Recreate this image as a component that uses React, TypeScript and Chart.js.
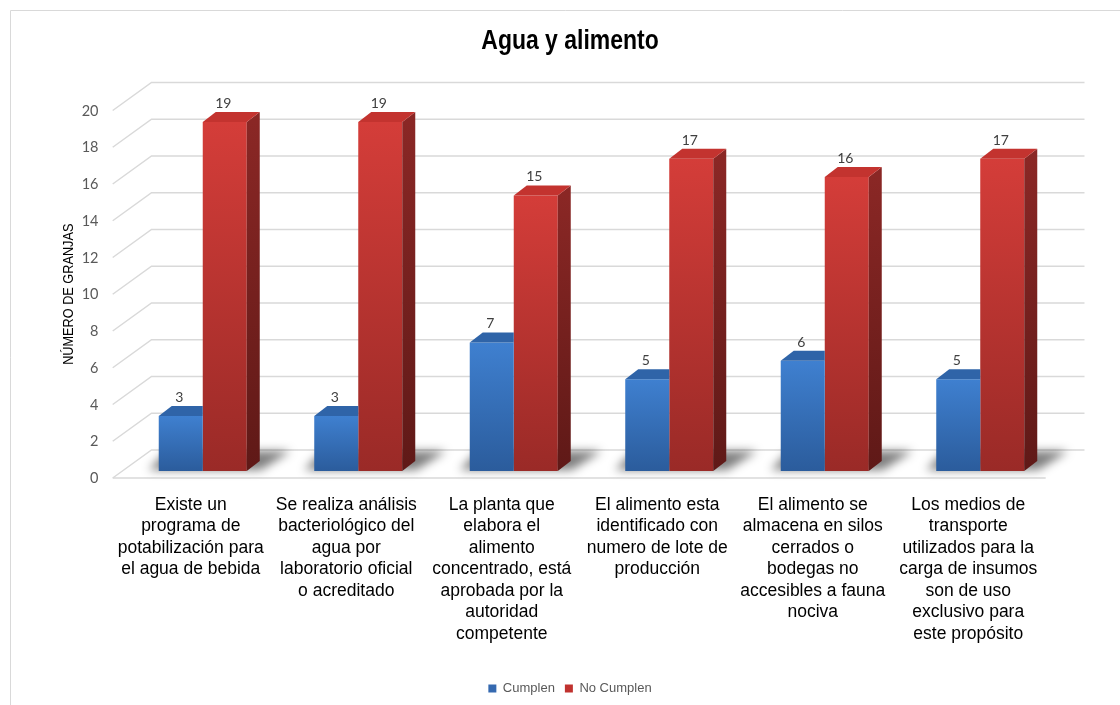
import React, { useEffect, useRef } from "react";
import { Chart, registerables } from "chart.js";

Chart.register(...registerables);

// ---------- data ----------
const categories: string[][] = [
  ["Existe un", "programa de", "potabilización para", "el agua de bebida"],
  ["Se realiza análisis", "bacteriológico del", "agua por", "laboratorio oficial", "o acreditado"],
  ["La planta que", "elabora el", "alimento", "concentrado, está", "aprobada por la", "autoridad", "competente"],
  ["El alimento esta", "identificado con", "numero de lote de", "producción"],
  ["El alimento se", "almacena en silos", "cerrados o", "bodegas no", "accesibles a fauna", "nociva"],
  ["Los medios de", "transporte", "utilizados para la", "carga de insumos", "son de uso", "exclusivo para", "este propósito"],
];
const cumplen = [3, 3, 7, 5, 6, 5];
const noCumplen = [19, 19, 15, 17, 16, 17];
const seriesNames = ["Cumplen", "No Cumplen"];
const yMin = 0;
const yMax = 20;
const yStep = 2;
const chartTitle = "Agua y alimento";
const yTitle = "NÚMERO DE GRANJAS";

// ---------- style ----------
const SANS = "'Liberation Sans', Arial, sans-serif";
const NUM = "Lato, 'Liberation Sans', sans-serif";
const NARROW_SCALE = 0.82;

const BLUE = { top: "#3f80d0", bottom: "#2b5c9c", cap: "#2f64a8", legend: "#3569b0" };
const RED = { top: "#d43d39", bottom: "#9a2a27", cap: "#c3332f", sideTop: "#8a2725", sideBottom: "#5f1917", legend: "#c0322f" };
const DEPTH = { dx: 13, dy: -10 };
const FRONT = { dx: -12.3, dy: 7 };
const BACK = { dx: 26.5, dy: -21 };
const GRID = "#d9d9d9";

function frontGradient(colors: { top: string; bottom: string }) {
  return (ctx: any) => {
    const chart = ctx.chart;
    if (ctx.type !== "data" || !chart.chartArea) return colors.bottom;
    const y = chart.scales.y;
    const t = y.getPixelForValue(ctx.raw);
    const b = y.getPixelForValue(0);
    const g = chart.ctx.createLinearGradient(0, t, 0, b);
    g.addColorStop(0, colors.top);
    g.addColorStop(1, colors.bottom);
    return g;
  };
}

function narrowText(c: CanvasRenderingContext2D, text: string, x: number, y: number, rot = 0) {
  c.save();
  c.translate(x, y);
  if (rot) c.rotate(rot);
  c.scale(NARROW_SCALE, 1);
  c.fillText(text, 0, 0);
  c.restore();
}

const threeD = {
  id: "threeD",
  beforeDraw(chart: any) {
    const c = chart.ctx;
    c.save();
    c.strokeStyle = GRID;
    c.lineWidth = 1;
    c.beginPath();
    c.moveTo(10.5, chart.height);
    c.lineTo(10.5, 10.5);
    c.lineTo(chart.width, 10.5);
    c.stroke();
    // chart title
    c.fillStyle = "#000000";
    c.font = `bold 28px ${SANS}`;
    c.textAlign = "center";
    c.textBaseline = "alphabetic";
    narrowText(c, chartTitle, 570, 48.5);
    c.restore();
  },
  beforeDatasetsDraw(chart: any) {
    const c = chart.ctx;
    const a = chart.chartArea;
    const y = chart.scales.y;
    c.save();
    c.strokeStyle = GRID;
    c.lineWidth = 1.5;
    const fl = a.left + FRONT.dx;
    const fr = a.right + FRONT.dx;
    const bl = a.left + BACK.dx;
    const br = a.right + BACK.dx;
    y.ticks.forEach((t: any) => {
      const py = y.getPixelForValue(t.value);
      c.beginPath();
      c.moveTo(fl, py + FRONT.dy);
      c.lineTo(bl, py + BACK.dy);
      c.lineTo(br, py + BACK.dy);
      c.stroke();
    });
    const p0 = y.getPixelForValue(0);
    c.beginPath();
    c.moveTo(fl, p0 + FRONT.dy);
    c.lineTo(fr, p0 + FRONT.dy);
    c.stroke();

    // soft floor shadows
    const m0 = chart.getDatasetMeta(0);
    const m1 = chart.getDatasetMeta(1);
    c.filter = "blur(5px)";
    c.fillStyle = "rgba(0,0,0,0.5)";
    m0.data.forEach((b0: any, i: number) => {
      const b1 = m1.data[i];
      const xl = b0.x - b0.width / 2;
      const xr = b1.x + b1.width / 2;
      c.beginPath();
      c.moveTo(xl - 10, p0 - 1);
      c.lineTo(xr + 14, p0 - 1);
      c.lineTo(xr + 44, p0 - 20);
      c.lineTo(xl + 8, p0 - 20);
      c.closePath();
      c.fill();
    });
    c.restore();
  },
  afterDatasetsDraw(chart: any) {
    const c = chart.ctx;
    const m0 = chart.getDatasetMeta(0);
    const m1 = chart.getDatasetMeta(1);
    const { dx, dy } = DEPTH;
    c.save();
    // blue caps (right part hidden by red bar)
    m0.data.forEach((b: any) => {
      const x1 = b.x - b.width / 2;
      const x2 = b.x + b.width / 2;
      const yt = b.y;
      c.fillStyle = BLUE.cap;
      c.beginPath();
      c.moveTo(x1, yt);
      c.lineTo(x2, yt);
      c.lineTo(x2, yt + dy);
      c.lineTo(x1 + dx, yt + dy);
      c.closePath();
      c.fill();
    });
    // red side faces and caps
    m1.data.forEach((b: any) => {
      const x1 = b.x - b.width / 2;
      const x2 = b.x + b.width / 2;
      const yt = b.y;
      const yb = b.base;
      const g = c.createLinearGradient(0, yt, 0, yb);
      g.addColorStop(0, RED.sideTop);
      g.addColorStop(1, RED.sideBottom);
      c.fillStyle = g;
      c.beginPath();
      c.moveTo(x2, yt);
      c.lineTo(x2 + dx, yt + dy);
      c.lineTo(x2 + dx, yb + dy);
      c.lineTo(x2, yb);
      c.closePath();
      c.fill();
      c.fillStyle = RED.cap;
      c.beginPath();
      c.moveTo(x1, yt);
      c.lineTo(x2, yt);
      c.lineTo(x2 + dx, yt + dy);
      c.lineTo(x1 + dx, yt + dy);
      c.closePath();
      c.fill();
    });
    // value labels
    c.fillStyle = "#404040";
    c.font = `14px ${NUM}`;
    c.textAlign = "center";
    c.textBaseline = "middle";
    [m0, m1].forEach((m: any, di: number) => {
      const vals = di === 0 ? cumplen : noCumplen;
      m.data.forEach((b: any, i: number) => {
        c.fillText(String(vals[i]), b.x - 1.5, b.y - 18.5);
      });
    });
    // y axis title
    const y = chart.scales.y;
    const mid = (y.getPixelForValue(yMin) + y.getPixelForValue(yMax)) / 2 + FRONT.dy;
    c.fillStyle = "#000000";
    c.font = `15.5px ${SANS}`;
    narrowText(c, yTitle, 69, mid, -Math.PI / 2);
    c.restore();
  },
};

export default function App() {
  const ref = useRef<HTMLCanvasElement | null>(null);

  useEffect(() => {
    document.body.style.margin = "0";
    const canvas = ref.current;
    if (!canvas) return;
    const chart = new Chart(canvas, {
      type: "bar",
      data: {
        labels: categories,
        datasets: [
          {
            label: seriesNames[0],
            data: cumplen,
            backgroundColor: frontGradient(BLUE),
            borderWidth: 0,
            categoryPercentage: 0.566,
            barPercentage: 1,
          },
          {
            label: seriesNames[1],
            data: noCumplen,
            backgroundColor: frontGradient(RED),
            borderWidth: 0,
            categoryPercentage: 0.566,
            barPercentage: 1,
          },
        ],
      },
      options: {
        responsive: false,
        animation: false,
        devicePixelRatio: 1,
        layout: { padding: { left: 82, right: 62, top: 103.5, bottom: 0 } },
        plugins: {
          title: { display: false },
          legend: {
            position: "bottom",
            labels: {
              boxWidth: 8,
              boxHeight: 8,
              padding: 10,
              color: "#595959",
              font: { family: SANS, size: 13 },
              generateLabels: () =>
                seriesNames.map((n, i) => ({
                  text: n,
                  fillStyle: i === 0 ? BLUE.legend : RED.legend,
                  strokeStyle: i === 0 ? BLUE.legend : RED.legend,
                  lineWidth: 0,
                  hidden: false,
                  datasetIndex: i,
                  fontColor: "#595959",
                })),
            },
          },
          tooltip: { enabled: false },
        },
        scales: {
          x: {
            grid: { display: false, drawTicks: false },
            border: { display: false },
            ticks: {
              autoSkip: false,
              maxRotation: 0,
              minRotation: 0,
              padding: 23,
              labelOffset: -12,
              color: "#000000",
              font: { family: SANS, size: 17.5, lineHeight: 1.23 },
            },
            afterFit: (s: any) => {
              s.height = 201;
            },
          },
          y: {
            min: yMin,
            max: yMax,
            grid: { display: false, drawTicks: false },
            border: { display: false },
            ticks: {
              stepSize: yStep,
              padding: 26.5,
              labelOffset: 7.5,
              color: "#595959",
              font: { family: NUM, size: 14.5 },
            },
            afterFit: (s: any) => {
              s.width = 43;
            },
          },
        },
      },
      plugins: [threeD],
    });
    return () => chart.destroy();
  }, []);

  return (
    <div style={{ position: "absolute", left: 0, top: 0, width: 1120, height: 705 }}>
      <canvas ref={ref} width={1120} height={705} style={{ width: 1120, height: 705, display: "block" }} />
    </div>
  );
}
